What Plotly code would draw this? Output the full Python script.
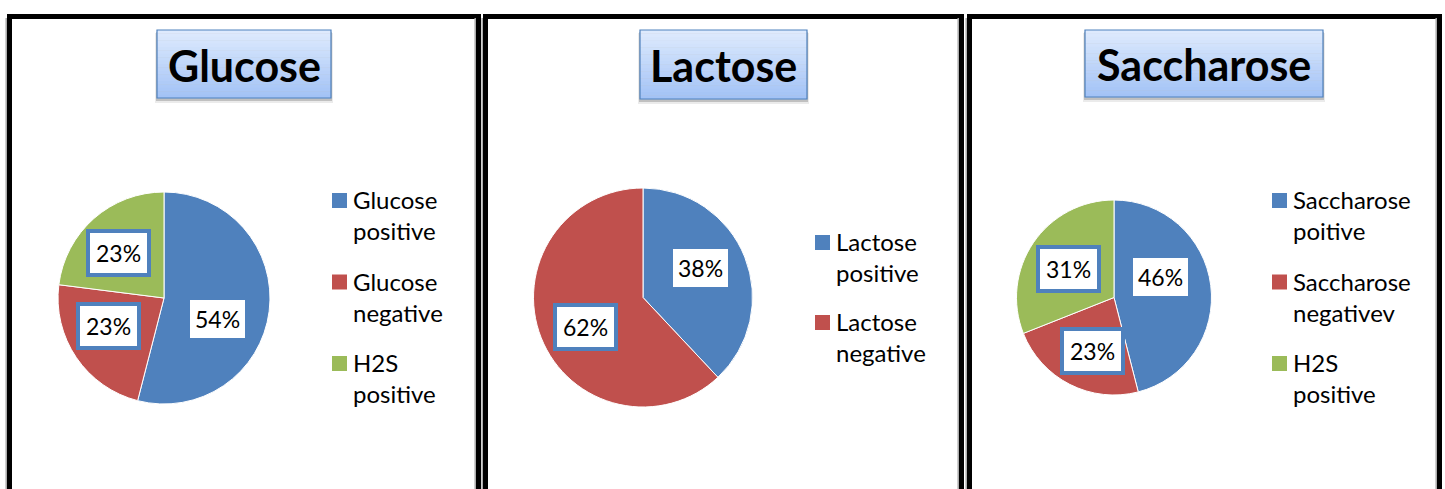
import math
import plotly.graph_objects as go

W, H = 1445, 489

# ---------------- data ----------------
panel_titles = ["Glucose", "Lactose", "Saccharose"]

glucose_labels = ["Glucose positive", "Glucose negative", "H2S positive"]
glucose_values = [54, 23, 23]

lactose_labels = ["Lactose positive", "Lactose negative"]
lactose_values = [38, 62]

saccharose_labels = ["Saccharose poitive", "Saccharose negativev", "H2S positive"]
saccharose_values = [46, 23, 31]

# ---------------- styles / layout ----------------
slice_colors = ["#4F81BD", "#C0504D", "#9BBB59"]
label_bordered = [[False, True, True], [False, True], [False, True, True]]
# small pixel nudges of the data labels from their mid-angle position (best-fit look)
label_nudge = [[(-7, 13), (-5, -7), (-5, 1)], [(-2, -6), (2, 6)], [(-10, -13), (4, 3), (1, 3)]]
FONT = "Lato"

panels = [(7, 481), (483, 964), (967, 1442)]        # outer black edges (px)
panel_top = 14
pies = [(164, 298, 106), (643, 297.5, 109.5), (1114, 297.5, 97.5)]   # cx, cy, r (px)
title_boxes = [(157, 30, 331, 98), (640, 30, 807, 99), (1085, 30, 1323, 97)]
legend_origin = [(332, 193), (815, 235), (1272, 193)]   # first swatch top-left (px)
legend_step = [81.5, 80, 81.5]
swatch = 15
label_frac = 0.58


def px(x):
    return x / W


def py(y):
    return 1 - y / H


def two_lines(s):
    return s.replace(" ", "<br>", 1)


datasets = [
    (glucose_labels, glucose_values),
    (lactose_labels, lactose_values),
    (saccharose_labels, saccharose_values),
]

fig = go.Figure()
annotations = []
shapes = []

for i, (labels, values) in enumerate(datasets):
    cx, cy, r = pies[i]
    colors = slice_colors[:len(values)]
    fig.add_trace(go.Pie(
        name=panel_titles[i],
        labels=labels,
        values=values,
        sort=False,
        direction="clockwise",
        rotation=0,
        textinfo="none",
        hoverinfo="label+percent",
        marker=dict(colors=colors, line=dict(color="white", width=1)),
        domain=dict(x=[px(cx - r), px(cx + r)], y=[py(cy + r), py(cy - r)]),
        showlegend=False,
    ))
    # data labels placed at mid-angle of each slice
    total = sum(values)
    cum = 0
    for j, v in enumerate(values):
        mid = 2 * math.pi * (cum + v / 2) / total
        cum += v
        dx, dy = label_nudge[i][j]
        lx = cx + label_frac * r * math.sin(mid) + dx
        ly = cy - label_frac * r * math.cos(mid) + dy
        bordered = label_bordered[i][j]
        annotations.append(dict(
            x=px(lx), y=py(ly), xref="paper", yref="paper",
            text=f"{round(v / total * 100)}%",
            showarrow=False,
            font=dict(family=FONT, size=23, color="#000000"),
            bgcolor="white",
            bordercolor="#4F81BD",
            borderwidth=4 if bordered else 0,
            borderpad=6 if bordered else 5,
            xanchor="center", yanchor="middle",
        ))
    # legend (one per panel)
    lx0, ly0 = legend_origin[i]
    for j, lab in enumerate(labels):
        top = ly0 + j * legend_step[i]
        shapes.append(dict(type="rect", xref="paper", yref="paper",
                           x0=px(lx0), x1=px(lx0 + swatch), y0=py(top + swatch), y1=py(top),
                           line=dict(width=0), fillcolor=colors[j], layer="above"))
        annotations.append(dict(
            x=px(lx0 + swatch + 5), y=py(top + 22), xref="paper", yref="paper",
            text=two_lines(lab), showarrow=False, align="left",
            font=dict(family=FONT, size=24, color="#000000"),
            xanchor="left", yanchor="middle", borderpad=0,
        ))

# ---------- panel frames ----------
for (x0, x1) in panels:
    shapes.append(dict(type="rect", xref="paper", yref="paper",
                       x0=px(x0 + 2.5), x1=px(x1 - 2.5), y0=py(H + 20), y1=py(panel_top + 2.5),
                       line=dict(color="black", width=5), fillcolor="rgba(0,0,0,0)", layer="above"))
    for xx in (x0 - 0.8, x1 - 5.8):
        shapes.append(dict(type="line", xref="paper", yref="paper",
                           x0=px(xx), x1=px(xx), y0=py(H + 20), y1=py(panel_top + 4),
                           line=dict(color="#A8A8A8", width=1.5), layer="above"))

# ---------- title boxes (gradient + shadow) ----------
top_rgb = (222, 234, 253)
bot_rgb = (163, 195, 246)
n_strips = 20
for i, (x0, y0, x1, y1) in enumerate(title_boxes):
    shapes.append(dict(type="rect", xref="paper", yref="paper",
                       x0=px(x0 - 2), x1=px(x1 + 2), y0=py(y1 + 5), y1=py(y0 + 3),
                       line=dict(width=0), fillcolor="rgba(0,0,0,0.08)", layer="below"))
    shapes.append(dict(type="rect", xref="paper", yref="paper",
                       x0=px(x0 - 1), x1=px(x1 + 1), y0=py(y1 + 3), y1=py(y0 + 2),
                       line=dict(width=0), fillcolor="rgba(0,0,0,0.18)", layer="below"))
    hh = (y1 - y0) / n_strips
    for k in range(n_strips):
        t = k / (n_strips - 1)
        c = tuple(round(top_rgb[m] + (bot_rgb[m] - top_rgb[m]) * t) for m in range(3))
        shapes.append(dict(type="rect", xref="paper", yref="paper",
                           x0=px(x0), x1=px(x1), y0=py(y0 + (k + 1) * hh + 0.3), y1=py(y0 + k * hh),
                           line=dict(width=0), fillcolor=f"rgb{c}", layer="below"))
    shapes.append(dict(type="rect", xref="paper", yref="paper",
                       x0=px(x0), x1=px(x1), y0=py(y1), y1=py(y0),
                       line=dict(color="#4F81BD", width=1.2), fillcolor="rgba(0,0,0,0)", layer="below"))
    annotations.append(dict(
        x=px((x0 + x1) / 2), y=py((y0 + y1) / 2 + 1), xref="paper", yref="paper",
        text=f"<b>{panel_titles[i]}</b>", showarrow=False,
        font=dict(family=FONT, size=43, color="#000000"),
        xanchor="center", yanchor="middle",
    ))

fig.update_layout(
    width=W, height=H,
    margin=dict(l=0, r=0, t=0, b=0),
    paper_bgcolor="white",
    plot_bgcolor="white",
    showlegend=False,
    shapes=shapes,
    annotations=annotations,
)

fig.write_html("out.html")
